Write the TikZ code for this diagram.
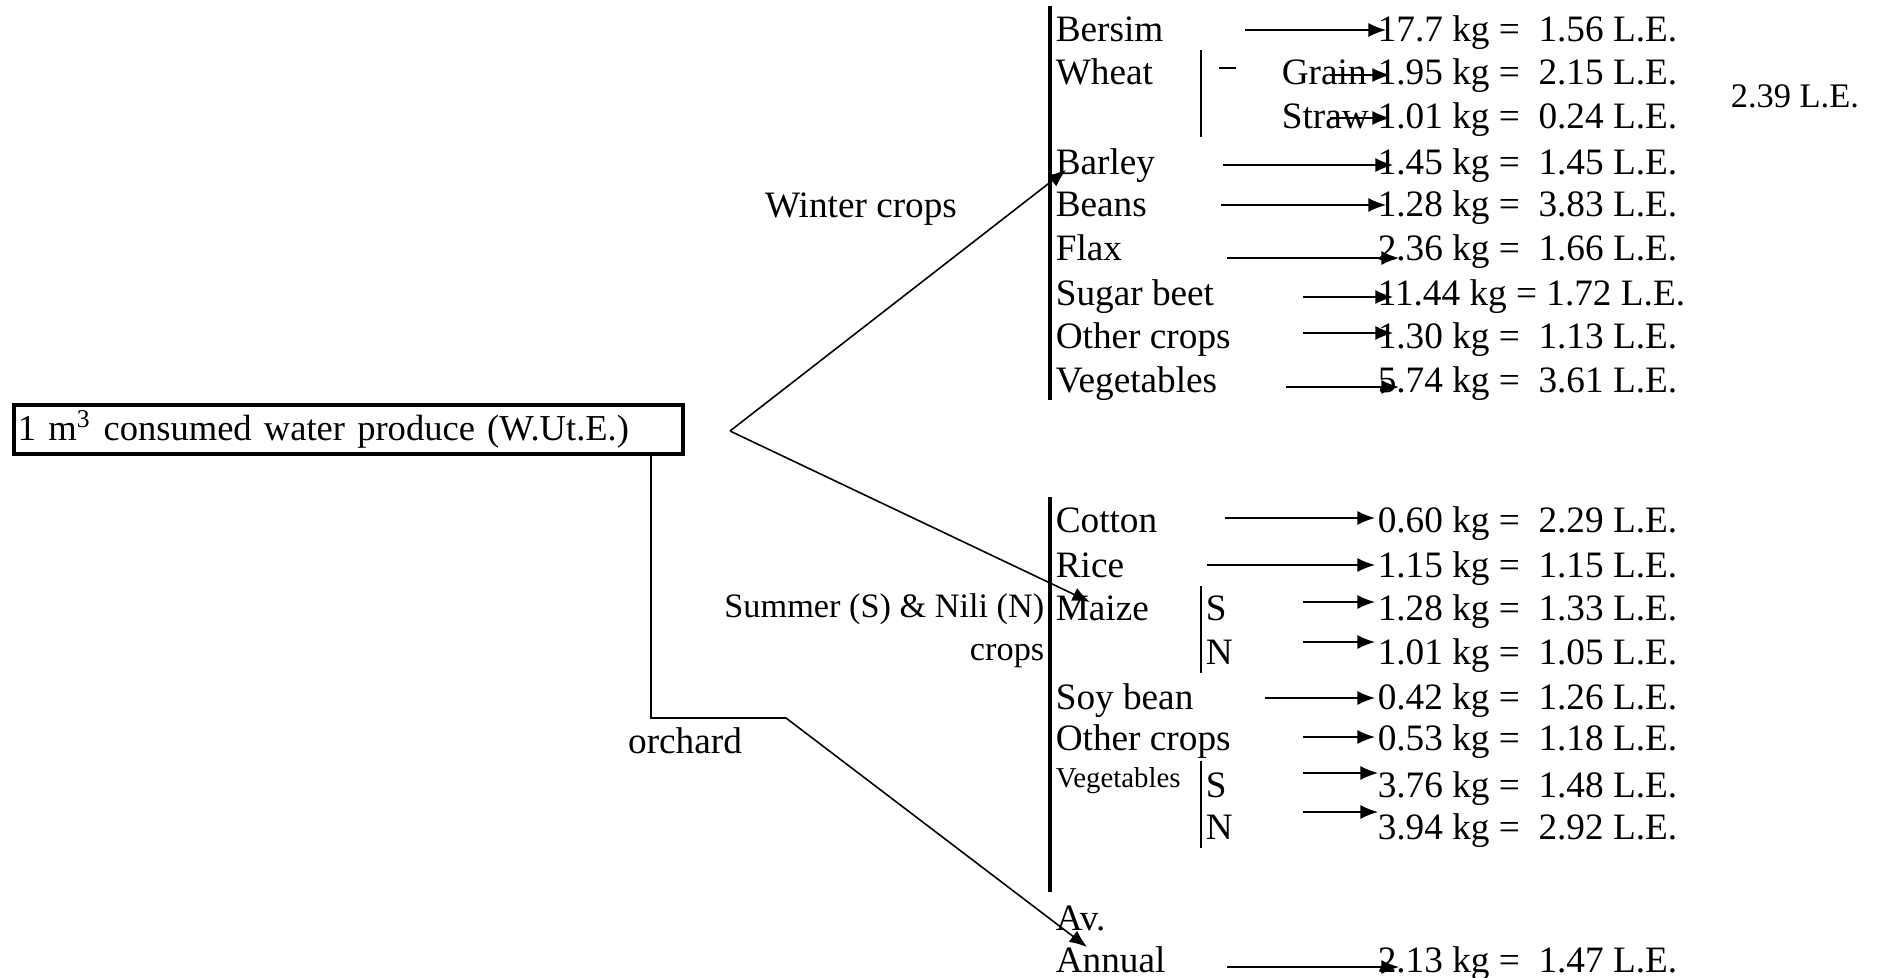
\documentclass[tikz,border=0pt]{standalone}
\usepackage{fontspec}
\setmainfont{Liberation Serif}
\usetikzlibrary{arrows.meta}

\tikzset{
  crop/.style={anchor=base west,inner sep=0pt,font=\fontsize{10.6}{12}\selectfont},
  val/.style={anchor=base west,inner sep=0pt,font=\fontsize{10.6}{12}\selectfont},
  small/.style={anchor=base west,inner sep=0pt,font=\fontsize{8.2}{10}\selectfont},
  bigbar/.style={line width=1pt},
  subbar/.style={line width=0.6pt}
}

\begin{document}
\begin{tikzpicture}[x=0.1mm,y=-0.1mm,line width=0.45pt,>={Latex[length=5pt,width=4pt]}]
\useasboundingbox (0,0) rectangle (1877,978);

% root box
\node[draw,line width=1.1pt,anchor=north west,inner xsep=0.4mm,inner ysep=0pt,
  text width=66.1mm,minimum height=4.9mm,align=left,font=\fontsize{10.4}{12}\selectfont]
  (root) at (12,403) {1 m\textsuperscript{3} consumed water produce (W.Ut.E.)};

\coordinate (F) at (730,431);
\coordinate (W) at (1066,170);
\coordinate (S) at (1090,602);
\coordinate (O1) at (651,452);
\coordinate (O2) at (651,718);
\coordinate (O3) at (786,718);
\coordinate (O4) at (1087,947);

\node[crop,anchor=base] (winter) at (861,218) {Winter crops};
\node[anchor=base east,align=right,inner sep=0pt,font=\fontsize{9.75}{12}\selectfont]
  (summer) at (1045,660) {Summer (S) \& Nili (N)\\crops};
\node[crop,anchor=base] (orchard) at (685,753) {orchard};

\draw[->] (F)--(W);
\draw[->] (F)--(S);
\draw[->] (O1)--(O2)--(O3)--(O4);

% winter crops
\draw[bigbar] (1050,6)--(1050,400);
\node[crop] (bersim) at (1055,42) {Bersim};
\node[crop] (wheat) at (1055,85) {Wheat};
\node[crop] (grain) at (1281,85) {Grain};
\node[crop] (straw) at (1281,129) {Straw};
\node[crop] (barley) at (1055,175) {Barley};
\node[crop] (beans) at (1055,217) {Beans};
\node[crop] (flax) at (1055,260) {Flax};
\node[crop] (beet) at (1055,305) {Sugar beet};
\node[crop] (wother) at (1055,349) {Other crops};
\node[crop] (wveg) at (1055,392) {Vegetables};
\draw[subbar] (1201,50)--(1201,137);
\draw (1219,68)--(1236,68);

\node[val] (vbersim) at (1377,42) {17.7 kg =\ \ 1.56 L.E.};
\node[val] (vgrain) at (1377,85) {1.95 kg =\ \ 2.15 L.E.};
\node[val] (vstraw) at (1377,129) {1.01 kg =\ \ 0.24 L.E.};
\node[val] (vbarley) at (1377,175) {1.45 kg =\ \ 1.45 L.E.};
\node[val] (vbeans) at (1377,217) {1.28 kg =\ \ 3.83 L.E.};
\node[val] (vflax) at (1377,260) {2.36 kg =\ \ 1.66 L.E.};
\node[val] (vbeet) at (1377,305) {11.44 kg = 1.72 L.E.};
\node[val] (vwother) at (1377,349) {1.30 kg =\ \ 1.13 L.E.};
\node[val] (vwveg) at (1377,392) {5.74 kg =\ \ 3.61 L.E.};
\node[val,font=\fontsize{9.8}{12}\selectfont] (wheattotal) at (1730,108) {2.39 L.E.};

\coordinate (a1) at (1245,30);  \coordinate (b1) at (1386,30);
\coordinate (a2) at (1330,75);  \coordinate (b2) at (1390,75);
\coordinate (a3) at (1330,118); \coordinate (b3) at (1390,118);
\coordinate (a4) at (1223,165); \coordinate (b4) at (1393,165);
\coordinate (a5) at (1221,205); \coordinate (b5) at (1386,205);
\coordinate (a6) at (1227,258); \coordinate (b6) at (1399,258);
\coordinate (a7) at (1303,297); \coordinate (b7) at (1393,297);
\coordinate (a8) at (1303,333); \coordinate (b8) at (1393,333);
\coordinate (a9) at (1286,387); \coordinate (b9) at (1399,387);
\draw[->] (a1)--(b1);
\draw[->] (a2)--(b2);
\draw[->] (a3)--(b3);
\draw[->] (a4)--(b4);
\draw[->] (a5)--(b5);
\draw[->] (a6)--(b6);
\draw[->] (a7)--(b7);
\draw[->] (a8)--(b8);
\draw[->] (a9)--(b9);

% summer and nili crops
\draw[bigbar] (1050,497)--(1050,892);
\node[crop] (cotton) at (1055,532) {Cotton};
\node[crop] (rice) at (1055,577) {Rice};
\node[crop] (maize) at (1055,620) {Maize};
\node[crop] (maizes) at (1205,620) {S};
\node[crop] (maizen) at (1205,664) {N};
\node[crop] (soy) at (1055,709) {Soy bean};
\node[crop] (sother) at (1055,750) {Other crops};
\node[small] (sveg) at (1055,787) {Vegetables};
\node[crop] (vegs) at (1205,797) {S};
\node[crop] (vegn) at (1205,839) {N};
\node[crop] (av) at (1055,930) {Av.};
\node[crop] (annual) at (1055,972) {Annual};
\draw[subbar] (1201,586)--(1201,673);
\draw[subbar] (1201,761)--(1201,848);

\node[val] (vcotton) at (1377,532) {0.60 kg =\ \ 2.29 L.E.};
\node[val] (vrice) at (1377,577) {1.15 kg =\ \ 1.15 L.E.};
\node[val] (vmaizes) at (1377,620) {1.28 kg =\ \ 1.33 L.E.};
\node[val] (vmaizen) at (1377,664) {1.01 kg =\ \ 1.05 L.E.};
\node[val] (vsoy) at (1377,709) {0.42 kg =\ \ 1.26 L.E.};
\node[val] (vsother) at (1377,750) {0.53 kg =\ \ 1.18 L.E.};
\node[val] (vvegs) at (1377,797) {3.76 kg =\ \ 1.48 L.E.};
\node[val] (vvegn) at (1377,839) {3.94 kg =\ \ 2.92 L.E.};
\node[val] (vannual) at (1377,972) {2.13 kg =\ \ 1.47 L.E.};

\coordinate (c1) at (1225,518); \coordinate (d1) at (1375,518);
\coordinate (c2) at (1207,565); \coordinate (d2) at (1375,565);
\coordinate (c3) at (1303,602); \coordinate (d3) at (1375,602);
\coordinate (c4) at (1303,642); \coordinate (d4) at (1375,642);
\coordinate (c5) at (1265,698); \coordinate (d5) at (1375,698);
\coordinate (c6) at (1303,737); \coordinate (d6) at (1375,737);
\coordinate (c7) at (1303,773); \coordinate (d7) at (1378,773);
\coordinate (c8) at (1303,812); \coordinate (d8) at (1378,812);
\coordinate (c9) at (1227,967); \coordinate (d9) at (1399,967);
\draw[->] (c1)--(d1);
\draw[->] (c2)--(d2);
\draw[->] (c3)--(d3);
\draw[->] (c4)--(d4);
\draw[->] (c5)--(d5);
\draw[->] (c6)--(d6);
\draw[->] (c7)--(d7);
\draw[->] (c8)--(d8);
\draw[->] (c9)--(d9);
\end{tikzpicture}
\end{document}
